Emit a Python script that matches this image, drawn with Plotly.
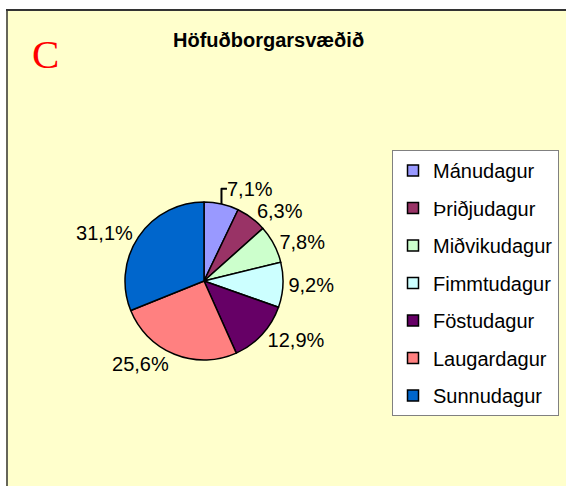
import plotly.graph_objects as go

days = ["Mánudagur", "Þriðjudagur", "Miðvikudagur", "Fimmtudagur",
        "Föstudagur", "Laugardagur", "Sunnudagur"]
shares = [7.1, 6.3, 7.8, 9.2, 12.9, 25.6, 31.1]
colors = ["#9999FF", "#993366", "#CCFFCC", "#CCFFFF", "#660066", "#FF8080", "#0066CC"]
title_text = "Höfuðborgarsvæðið"
panel_letter = "C"

W, H = 566, 486
labels_txt = [f"{v:.1f}".replace(".", ",") + "%" for v in shares]
FONT = "Liberation Sans, Arial, sans-serif"

cx, cy, r = 204, 281, 79

fig = go.Figure()
fig.add_trace(go.Pie(
    labels=days, values=shares, sort=False, direction="clockwise", rotation=0,
    marker=dict(colors=colors, line=dict(color="black", width=1.5)),
    text=labels_txt, textinfo="text", textposition="outside",
    textfont=dict(family=FONT, size=20, color="black"),
    showlegend=False, hoverinfo="label+percent",
    domain=dict(x=[(cx - r) / W, (cx + r) / W],
                y=[(H - cy - r) / H, (H - cy + r) / H]),
))
for d, c in zip(days, colors):
    fig.add_trace(go.Scatter(
        x=[None], y=[None], mode="markers", name=d, legendgroup=d,
        marker=dict(symbol="square", size=11, color=c, line=dict(color="black", width=1.5)),
    ))

fig.update_layout(
    width=W, height=H, margin=dict(l=0, r=0, t=0, b=0),
    paper_bgcolor="#FFFFCC", plot_bgcolor="rgba(0,0,0,0)",
    xaxis=dict(visible=False), yaxis=dict(visible=False),
    showlegend=True,
    legend=dict(x=392 / W, y=1 - 150 / H, xanchor="left", yanchor="top",
                bgcolor="white", bordercolor="#808080", borderwidth=1,
                font=dict(family=FONT, size=20, color="black"),
                tracegroupgap=8.5, itemwidth=30),
    shapes=[
        dict(type="rect", xref="paper", yref="paper", x0=0, x1=1, y0=1 - 9 / H, y1=1,
             fillcolor="white", line=dict(width=0), layer="above"),
        dict(type="rect", xref="paper", yref="paper", x0=0, x1=6 / W, y0=0, y1=1,
             fillcolor="white", line=dict(width=0), layer="above"),
        dict(type="line", xref="paper", yref="paper", x0=6 / W, x1=1, y0=1 - 10 / H, y1=1 - 10 / H,
             line=dict(color="#333333", width=2), layer="above"),
        dict(type="line", xref="paper", yref="paper", x0=7 / W, x1=7 / W, y0=0, y1=1 - 10 / H,
             line=dict(color="#333333", width=1.5), layer="above"),
    ],
    annotations=[
        dict(text=f"<b>{title_text}</b>", xref="paper", yref="paper", x=268 / W, y=1 - 40 / H,
             xanchor="center", yanchor="middle", showarrow=False,
             font=dict(family=FONT, size=20, color="black")),
        dict(text=panel_letter, xref="paper", yref="paper", x=45 / W, y=1 - 54 / H,
             xanchor="center", yanchor="middle", showarrow=False,
             font=dict(family="Liberation Serif, Times New Roman, serif", size=41, color="red")),
    ],
)
fig.write_html("out.html", config={"displayModeBar": False},
               post_script="document.body.style.margin='0';document.body.style.overflow='hidden';")
